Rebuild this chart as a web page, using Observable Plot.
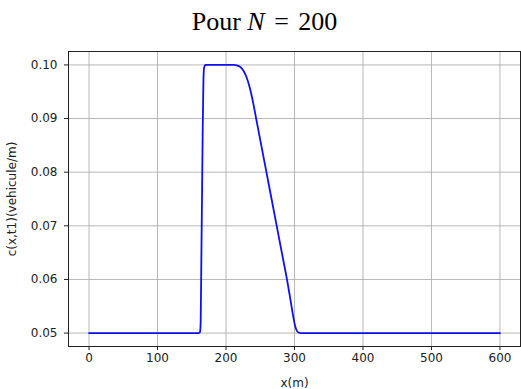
<!DOCTYPE html>
<html><head><meta charset="utf-8">
<script src="https://cdn.jsdelivr.net/npm/d3@7"></script>
<script src="https://cdn.jsdelivr.net/npm/@observablehq/plot@0.6"></script>
<style>
html,body{margin:0;padding:0;background:#fff;}
#wrap{position:relative;width:521px;height:389px;overflow:hidden;}
#t{position:absolute;left:4px;top:0;width:521px;height:40px;box-sizing:border-box;padding-top:9px;text-align:center;font-family:"Liberation Serif",serif;font-size:26px;line-height:1;color:#000;white-space:nowrap;}
#t .sp{display:inline-block;width:3px;}
#c{position:absolute;left:0;top:40px;}
</style></head><body>
<div id="wrap">
<div id="t">Pour <i>N</i><span class="sp"></span> = <span class="sp"></span>200</div>
<div id="c"></div>
</div>
<script>
const xs = [0, 100, 160, 162, 163, 164, 165, 166, 167, 168, 170, 180, 200, 212, 216, 220, 225, 230, 235, 240, 244, 251.5, 259, 266.5, 274, 281.5, 289, 292, 295, 298, 301, 303.5, 306, 309, 400, 500, 600];
const ys = [0.05, 0.05, 0.05, 0.0502, 0.052, 0.064, 0.076, 0.088, 0.097, 0.0995, 0.1, 0.1, 0.1, 0.1, 0.0999, 0.0997, 0.099, 0.0977, 0.0956, 0.0927, 0.09, 0.085, 0.08, 0.075, 0.07, 0.065, 0.06, 0.0578, 0.0555, 0.0532, 0.0513, 0.0504, 0.0501, 0.05, 0.05, 0.05, 0.05];
const xTicks = [0, 100, 200, 300, 400, 500, 600];
const yTicks = [0.05, 0.06, 0.07, 0.08, 0.09, 0.10];

const data = xs.map((x, i) => ({x, y: ys[i]}));

const chart = Plot.plot({
  width: 521,
  height: 349,
  marginLeft: 68,
  marginRight: 1,
  marginTop: 11,
  marginBottom: 43,
  style: {fontFamily: "DejaVu Sans", fontSize: "12px", color: "#222", background: "#fff"},
  x: {domain: [-30, 630]},
  y: {domain: [0.0475, 0.1025]},
  marks: [
    Plot.gridX(xTicks, {stroke: "#b0b0b0", strokeOpacity: 1, strokeWidth: 0.9}),
    Plot.gridY(yTicks, {stroke: "#b0b0b0", strokeOpacity: 1, strokeWidth: 0.9}),
    Plot.line(data, {x: "x", y: "y", stroke: "#1010ee", strokeWidth: 1.8, curve: "monotone-x"}),
    Plot.frame({stroke: "#222", strokeWidth: 1}),
    Plot.axisX(xTicks, {tickSize: 4, tickPadding: 3, label: "x(m)", labelAnchor: "center", labelArrow: "none", labelOffset: 40}),
    Plot.axisY(yTicks, {tickSize: 4, tickPadding: 7, tickFormat: d3.format(".2f"), label: "c(x,t1)(vehicule/m)", labelAnchor: "center", labelArrow: "none", labelOffset: 61})
  ]
});
document.getElementById("c").appendChild(chart);
</script>
</body></html>
